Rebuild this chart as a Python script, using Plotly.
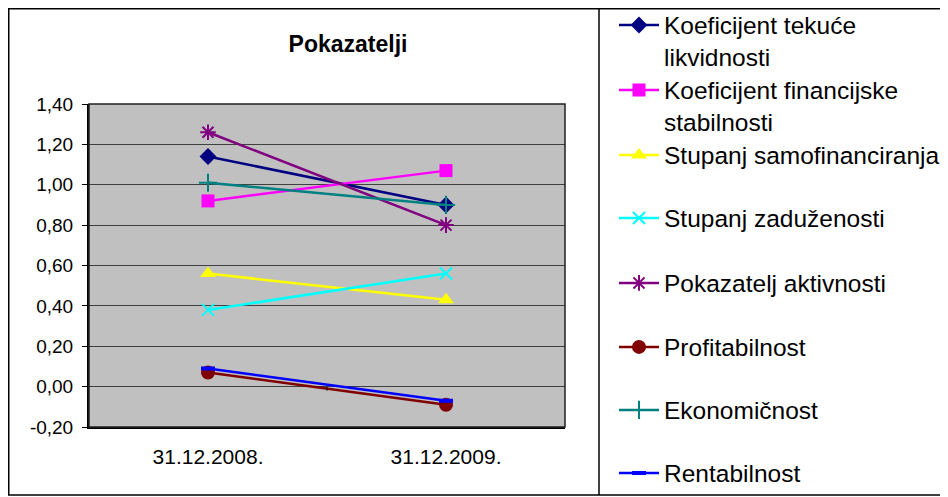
import plotly.graph_objects as go

categories = ['31.12.2008.', '31.12.2009.']

tekuca_likvidnost = [1.14, 0.90]
financijska_stabilnost = [0.92, 1.07]
samofinanciranje = [0.56, 0.43]
zaduzenost = [0.38, 0.56]
aktivnost = [1.26, 0.80]
profitabilnost = [0.07, -0.09]
ekonomicnost = [1.01, 0.90]
rentabilnost = [0.09, -0.07]

y_ticks = [-0.2, 0.0, 0.2, 0.4, 0.6, 0.8, 1.0, 1.2, 1.4]
y_tick_labels = ['-0,20', '0,00', '0,20', '0,40', '0,60', '0,80', '1,00', '1,20', '1,40']

names = ['Koeficijent tekuće<br>likvidnosti',
         'Koeficijent financijske<br>stabilnosti',
         'Stupanj samofinanciranja',
         'Stupanj zaduženosti',
         'Pokazatelj aktivnosti',
         'Profitabilnost',
         'Ekonomičnost',
         'Rentabilnost']
series = [tekuca_likvidnost, financijska_stabilnost, samofinanciranje, zaduzenost,
          aktivnost, profitabilnost, ekonomicnost, rentabilnost]

# colour, symbol, size, marker outline width
styles = [('#000080', 'diamond', 13, 0),
          ('#FF00FF', 'square', 13, 0),
          ('#FFFF00', 'triangle-up', 14, 0),
          ('#00FFFF', 'x-thin-open', 12, 2),
          ('#800080', 'asterisk-open', 13, 2),
          ('#800000', 'circle', 14, 0),
          ('#008080', 'cross-thin-open', 13, 2),
          ('#0000FF', 'line-ew-open', 10, 4)]

# window y of the first text line of each legend entry (Excel spaces them evenly)
legend_rows = [25, 90, 155, 218, 283, 347, 410, 473]

# page has an 8px body margin; plot area in window px: x 89..565, y 104..427
def px(x):
    return (x - 89) / 476.0

def py(y):
    return (427 - y) / 323.0

fig = go.Figure()
legends = {}
for i, (name, vals) in enumerate(zip(names, series)):
    color, symbol, size, lw = styles[i]
    lname = 'legend' if i == 0 else 'legend%d' % (i + 1)
    fig.add_trace(go.Scatter(
        x=categories, y=vals, name=name, mode='lines+markers', legend=lname,
        line=dict(color=color, width=2.5),
        marker=dict(symbol=symbol, size=size, color=color,
                    line=dict(color=color, width=lw))
    ))
    legends[lname] = dict(x=px(614), xanchor='left', y=py(legend_rows[i] - 22.5), yanchor='top',
                          bgcolor='rgba(0,0,0,0)', font=dict(size=24.5), valign='top',
                          itemwidth=40)

shapes = [
    dict(type='rect', xref='paper', yref='paper', x0=px(8.75), x1=px(947), y0=py(495), y1=py(8.75),
         line=dict(color='#000000', width=1.5)),
    dict(type='line', xref='paper', yref='paper', x0=px(599), x1=px(599), y0=py(495), y1=py(8.75),
         line=dict(color='#000000', width=1.5)),
    dict(type='rect', xref='paper', yref='paper', x0=0, x1=1, y0=0, y1=1,
         line=dict(color='#202020', width=1.5)),
    dict(type='line', xref='x', yref='y', x0=0.5, x1=0.5, y0=0, y1=-0.02,
         line=dict(color='#000000', width=1)),
]

fig.update_layout(
    width=940, height=489,
    margin=dict(l=81, r=383, t=96, b=70, autoexpand=False),
    paper_bgcolor='white', plot_bgcolor='#C0C0C0',
    font=dict(family='Arial, Liberation Sans, sans-serif', color='black'),
    title=dict(text='<b>Pokazatelji</b>', font=dict(size=23), xref='container', x=340 / 940,
               xanchor='center', y=1 - 36 / 489, yanchor='middle'),
    xaxis=dict(range=[-0.5, 1.5], showgrid=False, showline=True, linecolor='black', linewidth=2,
               ticks='', tickfont=dict(size=21), ticklabelstandoff=10, zeroline=False),
    yaxis=dict(range=[-0.2, 1.4], tickvals=y_ticks, ticktext=y_tick_labels, showgrid=True,
               gridcolor='#404040', gridwidth=1, zeroline=False, showline=True,
               linecolor='black', linewidth=2, ticks='outside', ticklen=5, tickcolor='black',
               tickfont=dict(size=19), ticklabelstandoff=5),
    showlegend=True,
    shapes=shapes,
    **legends
)

fig.write_html("out.html")
